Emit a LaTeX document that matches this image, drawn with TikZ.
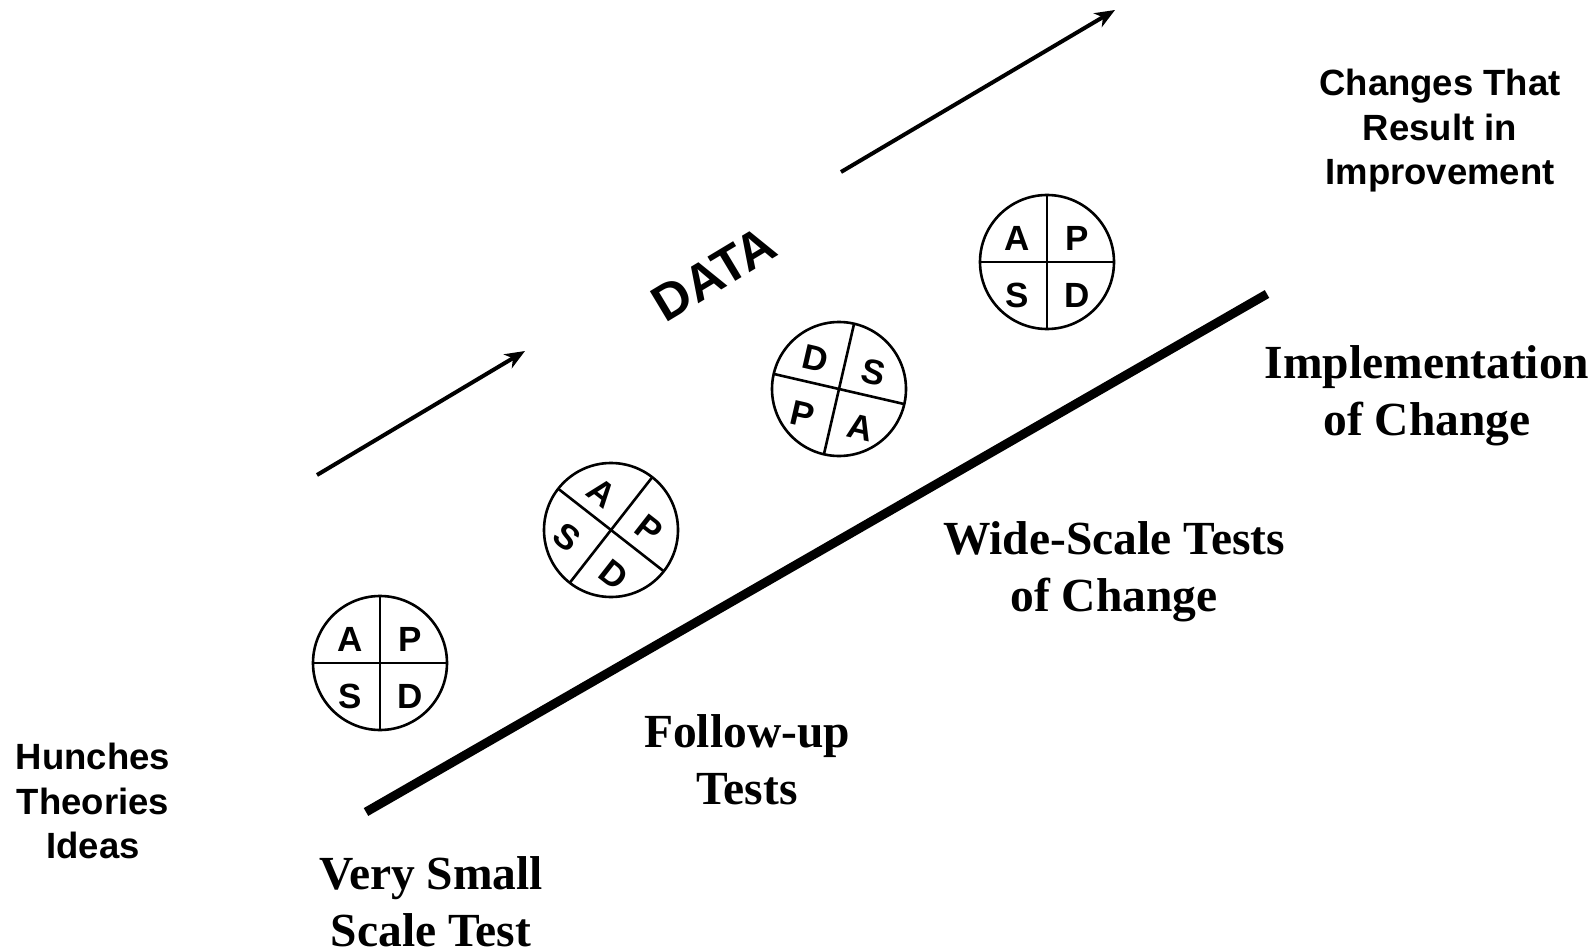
\documentclass[tikz,border=0pt]{standalone}
\usepackage{fontspec}
\setmainfont{Liberation Serif}
\setsansfont{Liberation Sans}
\usetikzlibrary{arrows.meta}
\tikzset{
  wheel/.style={circle, draw, line width=2.6pt, minimum size=134pt, inner sep=0pt, outer sep=0pt},
  wheelline/.style={line width=2.6pt},
  letter/.style={font=\sffamily\bfseries\fontsize{35}{35}\selectfont, inner sep=0pt},
  sanslabel/.style={font=\sffamily\bfseries\fontsize{36.5}{44.5}\selectfont, align=center, inner sep=0pt},
  seriflabel/.style={font=\rmfamily\bfseries\fontsize{47.5}{57}\selectfont, align=center, inner sep=0pt},
  datalabel/.style={font=\sffamily\bfseries\fontsize{51}{51}\selectfont, inner sep=0pt},
  dataarrow/.style={line width=4pt, -{Stealth[length=20pt,width=16pt,inset=6pt]}},
  baseline/.style={line width=9pt},
}
% name, x, y, rotation, top-left, top-right, bottom-left, bottom-right
\newcommand\pdsawheel[8]{%
  \node[wheel] (#1) at (#2,#3) {};
  \begin{scope}[shift={(#2,#3)}, rotate=#4]
    \draw[wheelline] (-67,0) -- (67,0);
    \draw[wheelline] (0,-67) -- (0,67);
    \node[letter, rotate=#4] (#1tl) at (-30,-24) {#5};
    \node[letter, rotate=#4] (#1tr) at (30,-24) {#6};
    \node[letter, rotate=#4] (#1bl) at (-30,33) {#7};
    \node[letter, rotate=#4] (#1br) at (30,33) {#8};
  \end{scope}%
}
\begin{document}
\begin{tikzpicture}[x=1pt,y=-1pt]
\useasboundingbox (0,0) rectangle (1596,952);
\fill[white] (0,0) rectangle (1596,952);

% arrows
\coordinate (a1s) at (841,172);
\coordinate (a1e) at (1115,10);
\coordinate (a2s) at (317,475);
\coordinate (a2e) at (525,351);
\draw[dataarrow] (a1s) -- (a1e);
\draw[dataarrow] (a2s) -- (a2e);

% thick line
\coordinate (ls) at (366,812);
\coordinate (le) at (1267,294);
\draw[baseline] (ls) -- (le);

% wheels
\pdsawheel{w1}{380}{663}{0}{A}{P}{S}{D}
\pdsawheel{w2}{611}{530}{-38}{A}{P}{S}{D}
\pdsawheel{w3}{839}{389}{-13}{D}{S}{P}{A}
\pdsawheel{w4}{1047}{262}{0}{A}{P}{S}{D}

% labels
\node[datalabel, rotate=31] (data) at (714,274) {DATA};
\node[sanslabel] (changes) at (1440,131) {Changes That\\Result in\\Improvement};
\node[sanslabel] (hunches) at (93,801) {Hunches\\Theories\\Ideas};
\node[seriflabel] (impl) at (1427,396) {Implementation\\of Change};
\node[seriflabel] (wide) at (1114,572) {Wide-Scale Tests\\of Change};
\node[seriflabel] (follow) at (747,760) {Follow-up\\Tests};
\node[seriflabel] (small) at (431,902) {Very Small\\Scale Test};
\end{tikzpicture}
\end{document}
